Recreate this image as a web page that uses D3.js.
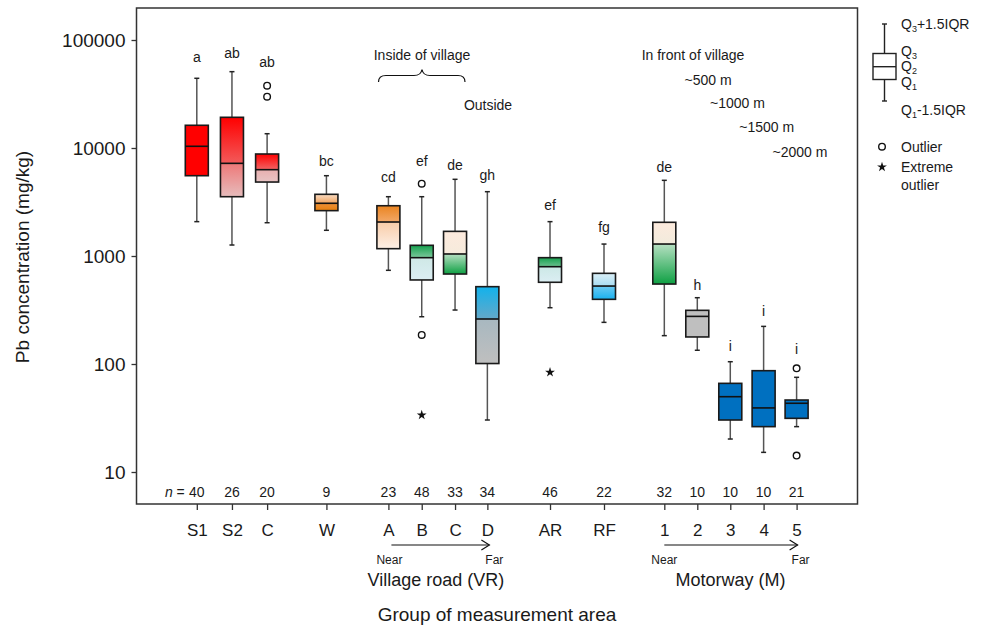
<!DOCTYPE html>
<html><head><meta charset="utf-8">
<script src="https://cdn.jsdelivr.net/npm/d3@7"></script>
<style>
body{margin:0;background:#fff}
svg{display:block;font-family:"Liberation Sans",Arial,Helvetica,sans-serif}
</style>
</head><body>
<svg id="c" width="986" height="630"></svg>
<script>
// ---------------- DATA ----------------
const categories = ["S1","S2","C","W","A","B","C","D","AR","RF","1","2","3","4","5"];
const nCounts    = [40,26,20,9,23,48,33,34,46,22,32,10,10,10,21];
const sigLetters = ["a","ab","ab","bc","cd","ef","de","gh","ef","fg","de","h","i","i","i"];
const whiskerHigh = [44200,50900,13560,5540,3540,3540,5130,3940,2080,1290,5020,411,105,223,75.3];
const q3          = [16230,19240,8800,3725,2920,1256,1691,520,965,691,2051,314,66.2,86.7,46.4];
const medians     = [10370,7210,6300,3076,2064,965,1044,261,796,527,1291,276,49.8,39.2,43.3];
const q1          = [5540,3540,4840,2630,1169,600,681,101,571,397,550,178,30.3,26.3,31.4];
const whiskerLow  = [2080,1264,2033,1730,737,274,316,30.3,332,243,183,134,20.2,15.2,26.3];
const outliers = [[],[],[37750,29860],[],[],[4674,186],[],[],[],[],[],[],[],[],[91.2,14.2]];
const extremes = [[],[],[],[],[],[33.7],[],[],[83.8],[],[],[],[],[],[]];
const yTicks = [10,100,1000,10000,100000];
const yTickLabels = ["10","100","1000","10000","100000"];

// ---------------- LAYOUT / STYLE ----------------
const slots = [0,1.055,2.11,3.89,5.75,6.75,7.75,8.72,10.6,12.22,14.03,15.02,16.01,17.01,18.0];
const letterOffset = [21.6,19,24,15,19.4,22.4,14,16.7,16.7,17.3,13,12.4,15.7,15.3,19];
const boxFills = [
  ["#ff0000","#ff0000","#ff0000","#ff0000"],
  ["#ff0000","#f25a5a","#ee7878","#e6bcbc"],
  ["#ff0000","#f26464","#e8b0b0","#e8c4c4"],
  ["#f9dcc4","#f0a460","#ec9038","#e8800f"],
  ["#ea8420","#f2a868","#f8cca8","#fdf0e6"],
  ["#16a04e","#7cc89c","#cfe8e6","#dbeef3"],
  ["#fdeadd","#f6ebdc","#b6e0c2","#0ea043"],
  ["#12b2ec","#64a8c8","#a8b8c0","#bfbfbf"],
  ["#16a04e","#6cc090","#cce8e6","#dbeef3"],
  ["#dbeff7","#a8dcf2","#6ccaf2","#19b1ef"],
  ["#fdeadd","#f2ebdc","#b6e0c2","#0ea043"],
  ["#bfbfbf","#bfbfbf","#bfbfbf","#bfbfbf"],
  ["#0070c0","#0070c0","#0070c0","#0070c0"],
  ["#0070c0","#0070c0","#0070c0","#0070c0"],
  ["#0070c0","#0070c0","#0070c0","#0070c0"]
];

const svg = d3.select("#c");
const frame = {left:136.5, right:857.5, top:8, bottom:504};
const y = d3.scaleLog().domain([10,100000]).range([472,40]);
const x = d3.scaleLinear().domain([0,18]).range([196.8,796.6]);
const boxW = 23, capW = 5;
const ink = "#1a1a1a";

const data = categories.map((c,i)=>({
  i, c, n:nCounts[i], letter:sigLetters[i], hi:whiskerHigh[i], q3:q3[i], med:medians[i],
  q1:q1[i], lo:whiskerLow[i], out:outliers[i], ext:extremes[i], pos:slots[i]
}));

// gradients
const defs = svg.append("defs");
data.forEach(d=>{
  const f = (y(d.med)-y(d.q3))/(y(d.q1)-y(d.q3));
  const g = defs.append("linearGradient").attr("id","g"+d.i)
    .attr("x1",0).attr("y1",0).attr("x2",0).attr("y2",1);
  const cols = boxFills[d.i];
  [[0,cols[0]],[f,cols[1]],[f,cols[2]],[1,cols[3]]].forEach(s=>{
    g.append("stop").attr("offset",s[0]).attr("stop-color",s[1]);
  });
});

// frame
svg.append("rect").attr("x",frame.left).attr("y",frame.top)
  .attr("width",frame.right-frame.left).attr("height",frame.bottom-frame.top)
  .attr("fill","none").attr("stroke","#333").attr("stroke-width",1.5);

// y axis
const ya = svg.append("g").attr("transform",`translate(${frame.left},0)`)
  .call(d3.axisLeft(y).tickValues(yTicks).tickFormat((d,i)=>yTickLabels[i]).tickSize(5).tickPadding(6));
ya.select(".domain").remove();
ya.selectAll("line").attr("stroke","#333").attr("stroke-width",1.3);
ya.selectAll("text").attr("font-size",19).attr("fill",ink).attr("font-family","Liberation Sans, Arial, sans-serif");

// x axis
const xa = svg.append("g").attr("transform",`translate(0,${frame.bottom})`)
  .call(d3.axisBottom(x).tickValues(slots).tickFormat((d,i)=>categories[i]).tickSize(6).tickPadding(14));
xa.select(".domain").remove();
xa.selectAll("line").attr("stroke","#333").attr("stroke-width",1.3);
xa.selectAll("text").attr("font-size",17).attr("fill",ink).attr("font-family","Liberation Sans, Arial, sans-serif");

// boxes
const gb = svg.append("g");
const bx = gb.selectAll("g.box").data(data).join("g").attr("class","box");
// whiskers
bx.append("line").attr("x1",d=>x(d.pos)).attr("x2",d=>x(d.pos))
  .attr("y1",d=>y(d.hi)).attr("y2",d=>y(d.q3)).attr("stroke","#555").attr("stroke-width",1.5);
bx.append("line").attr("x1",d=>x(d.pos)).attr("x2",d=>x(d.pos))
  .attr("y1",d=>y(d.q1)).attr("y2",d=>y(d.lo)).attr("stroke","#555").attr("stroke-width",1.5);
bx.append("line").attr("x1",d=>x(d.pos)-capW/2).attr("x2",d=>x(d.pos)+capW/2)
  .attr("y1",d=>y(d.hi)).attr("y2",d=>y(d.hi)).attr("stroke","#222").attr("stroke-width",1.5);
bx.append("line").attr("x1",d=>x(d.pos)-capW/2).attr("x2",d=>x(d.pos)+capW/2)
  .attr("y1",d=>y(d.lo)).attr("y2",d=>y(d.lo)).attr("stroke","#222").attr("stroke-width",1.5);
// box
bx.append("rect").attr("x",d=>x(d.pos)-boxW/2).attr("width",boxW)
  .attr("y",d=>y(d.q3)).attr("height",d=>y(d.q1)-y(d.q3))
  .attr("fill",d=>`url(#g${d.i})`).attr("stroke","#1a1a1a").attr("stroke-width",1.6);
// median
bx.append("line").attr("x1",d=>x(d.pos)-boxW/2).attr("x2",d=>x(d.pos)+boxW/2)
  .attr("y1",d=>y(d.med)).attr("y2",d=>y(d.med)).attr("stroke","#111").attr("stroke-width",1.6);
// outliers
bx.selectAll("circle").data(d=>d.out.map(v=>({v,pos:d.pos}))).join("circle")
  .attr("cx",d=>x(d.pos)).attr("cy",d=>y(d.v)).attr("r",3.3)
  .attr("fill","#fff").attr("stroke","#111").attr("stroke-width",1.4);
// extremes
const star = d3.symbol().type(d3.symbolStar).size(30);
bx.selectAll("path.ext").data(d=>d.ext.map(v=>({v,pos:d.pos}))).join("path").attr("class","ext")
  .attr("d",star).attr("transform",d=>`translate(${x(d.pos)},${y(d.v)})`).attr("fill","#111");
// letters
bx.append("text").attr("x",d=>x(d.pos))
  .attr("y",d=>y(d3.max([d.hi,...d.out]))-letterOffset[d.i]+5)
  .attr("text-anchor","middle").attr("font-size",14).attr("fill",ink).text(d=>d.letter);
// n counts
bx.append("text").attr("x",d=>x(d.pos)).attr("y",497)
  .attr("text-anchor","middle").attr("font-size",14).attr("fill",ink).text(d=>d.n);
const nt = svg.append("text").attr("x",x(slots[0])-12).attr("y",497).attr("text-anchor","end")
  .attr("font-size",14).attr("fill",ink);
nt.append("tspan").attr("font-style","italic").text("n");
nt.append("tspan").text(" =");

// annotations
const ann = svg.append("g").attr("font-size",14).attr("fill",ink).attr("text-anchor","middle");
ann.append("text").attr("x",422).attr("y",60).text("Inside of village");
ann.append("text").attr("x",488).attr("y",110).text("Outside");
ann.append("text").attr("x",693).attr("y",60).text("In front of village");
ann.append("text").attr("x",708).attr("y",85).text("~500 m");
ann.append("text").attr("x",737.5).attr("y",108).text("~1000 m");
ann.append("text").attr("x",766.7).attr("y",132).text("~1500 m");
ann.append("text").attr("x",800).attr("y",157).text("~2000 m");
svg.append("path")
  .attr("d","M378.5,82 Q378.5,75.5 386,75.5 L414,75.5 Q421,75.5 422,69.5 Q423,75.5 430,75.5 L458,75.5 Q465,75.5 465,82")
  .attr("fill","none").attr("stroke","#111").attr("stroke-width",1.2);

// bottom arrows & group labels
function arrow(x1,x2,yy){
  svg.append("line").attr("x1",x1).attr("x2",x2).attr("y1",yy).attr("y2",yy).attr("stroke","#111").attr("stroke-width",1.2);
  svg.append("path").attr("d",`M${x2-8},${yy-5} L${x2},${yy} L${x2-8},${yy+5}`).attr("fill","none").attr("stroke","#111").attr("stroke-width",1.2);
}
arrow(x(slots[4])+3, x(slots[7])+2, 545);
arrow(x(slots[10]), x(slots[14])+1, 545);
const bl = svg.append("g").attr("fill",ink).attr("text-anchor","middle");
bl.append("text").attr("x",x(slots[4])+1).attr("y",564).attr("font-size",12).text("Near");
bl.append("text").attr("x",x(slots[7])+7).attr("y",564).attr("font-size",12).text("Far");
bl.append("text").attr("x",x(slots[10])).attr("y",564).attr("font-size",12).text("Near");
bl.append("text").attr("x",x(slots[14])+4).attr("y",564).attr("font-size",12).text("Far");
bl.append("text").attr("x",(x(slots[4])+x(slots[7]))/2-2).attr("y",586).attr("font-size",18).text("Village road (VR)");
bl.append("text").attr("x",(x(slots[10])+x(slots[14]))/2).attr("y",586).attr("font-size",18).text("Motorway (M)");
bl.append("text").attr("x",497).attr("y",621).attr("font-size",19).text("Group of measurement area");
svg.append("text").attr("transform","translate(29,257) rotate(-90)").attr("text-anchor","middle")
  .attr("font-size",19).attr("fill",ink).text("Pb concentration (mg/kg)");

// legend
const lg = svg.append("g");
const lx = 884.5;
lg.append("line").attr("x1",lx).attr("x2",lx).attr("y1",24).attr("y2",101).attr("stroke","#222").attr("stroke-width",1.4);
lg.append("line").attr("x1",lx-2.5).attr("x2",lx+2.5).attr("y1",24).attr("y2",24).attr("stroke","#222").attr("stroke-width",1.4);
lg.append("line").attr("x1",lx-2.5).attr("x2",lx+2.5).attr("y1",101).attr("y2",101).attr("stroke","#222").attr("stroke-width",1.4);
lg.append("rect").attr("x",lx-11.5).attr("y",53.5).attr("width",23).attr("height",26).attr("fill","#fff").attr("stroke","#222").attr("stroke-width",1.4);
lg.append("line").attr("x1",lx-11.5).attr("x2",lx+11.5).attr("y1",66.7).attr("y2",66.7).attr("stroke","#222").attr("stroke-width",1.4);
function qlab(yy, sub, rest){
  const t = lg.append("text").attr("x",901).attr("y",yy).attr("font-size",14).attr("fill",ink);
  t.append("tspan").text("Q");
  t.append("tspan").attr("font-size",9).attr("dy",3).text(sub);
  if(rest) t.append("tspan").attr("dy",-3).text(rest);
}
qlab(29,"3","+1.5IQR");
qlab(55.5,"3");
qlab(71,"2");
qlab(87,"1");
qlab(115,"1","-1.5IQR");
lg.append("circle").attr("cx",882).attr("cy",146.7).attr("r",3.3).attr("fill","#fff").attr("stroke","#111").attr("stroke-width",1.4);
lg.append("path").attr("d",star).attr("transform","translate(882,167)").attr("fill","#111");
lg.append("text").attr("x",901).attr("y",151.7).attr("font-size",14).attr("fill",ink).text("Outlier");
lg.append("text").attr("x",901).attr("y",171.7).attr("font-size",14).attr("fill",ink).text("Extreme");
lg.append("text").attr("x",901).attr("y",190).attr("font-size",14).attr("fill",ink).text("outlier");
</script>
</body></html>
